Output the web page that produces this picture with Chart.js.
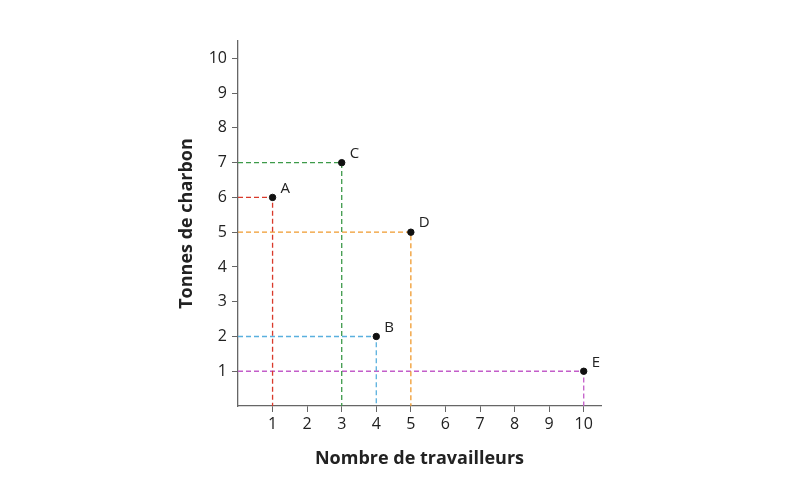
<!DOCTYPE html>
<html>
<head>
<meta charset="utf-8">
<script src="https://cdn.jsdelivr.net/npm/chart.js@4.4.1/dist/chart.umd.min.js"></script>
<style>
html,body{margin:0;padding:0;background:#fff;}
#wrap{width:810px;height:497px;position:relative;}
</style>
</head>
<body>
<div id="wrap"><canvas id="c" width="810" height="497"></canvas></div>
<script>
const pointLabels = ["A", "B", "C", "D", "E"];
const workers = [1, 4, 3, 5, 10];
const coal = [6, 2, 7, 5, 1];
const colors = ["#d93a2b", "#5ab0de", "#3d9a4a", "#f09a2e", "#c35ec9"];
const xTicks = [1, 2, 3, 4, 5, 6, 7, 8, 9, 10];
const yTicks = [1, 2, 3, 4, 5, 6, 7, 8, 9, 10];
const xTitle = "Nombre de travailleurs";
const yTitle = "Tonnes de charbon";

const FONT = "'Open Sans', 'Noto Sans', sans-serif";

const datasets = [];
pointLabels.forEach((lab, i) => {
  datasets.push({
    type: "line",
    order: 2,
    data: [{x: 0, y: coal[i]}, {x: workers[i], y: coal[i]}, {x: workers[i], y: 0}],
    borderColor: colors[i],
    borderWidth: 1.3,
    borderDash: [5, 3],
    pointRadius: 0,
    fill: false,
    tension: 0
  });
});
datasets.push({
  type: "scatter",
  order: 0,
  data: workers.map((w, i) => ({x: w, y: coal[i]})),
  backgroundColor: "#111",
  borderColor: "#111",
  pointRadius: 3.2,
  pointHoverRadius: 3.2
});

const labelPlugin = {
  id: "pointLabels",
  afterDatasetsDraw(chart) {
    const ctx = chart.ctx;
    const xs = chart.scales.x, ys = chart.scales.y;
    ctx.save();
    ctx.fillStyle = "#222";
    ctx.font = "15px " + FONT;
    ctx.textAlign = "left";
    ctx.textBaseline = "middle";
    pointLabels.forEach((lab, i) => {
      const px = xs.getPixelForValue(workers[i]);
      const py = ys.getPixelForValue(coal[i]);
      ctx.fillText(lab, px + 8, py - 9);
    });
    ctx.restore();
  }
};

new Chart(document.getElementById("c"), {
  data: {datasets},
  options: {
    responsive: false,
    animation: false,
    events: [],
    layout: {padding: {left: 176, right: 209, top: 41, bottom: 14}},
    plugins: {legend: {display: false}, tooltip: {enabled: false}},
    scales: {
      x: {
        type: "linear", min: 0, max: 10.5,
        afterBuildTicks: s => { s.ticks = xTicks.map(v => ({value: v})); },
        afterFit: s => { s.height = 77; },
        grid: {drawOnChartArea: false, drawTicks: true, tickLength: 6, color: "#666", tickWidth: 1},
        border: {display: true, color: "#666", width: 1.3},
        ticks: {color: "#222", font: {family: FONT, size: 16}, padding: 3, maxRotation: 0},
        title: {display: true, text: xTitle, color: "#222", font: {family: FONT, size: 18, weight: "bold"}, padding: {top: 0, bottom: 13}}
      },
      y: {
        type: "linear", min: 0, max: 10.5,
        afterBuildTicks: s => { s.ticks = yTicks.map(v => ({value: v})); },
        afterFit: s => { s.width = 62; },
        grid: {drawOnChartArea: false, drawTicks: true, tickLength: 6, color: "#666", tickWidth: 1},
        border: {display: true, color: "#666", width: 1.3},
        ticks: {color: "#222", font: {family: FONT, size: 16}, padding: 5},
        title: {display: true, text: yTitle, color: "#222", font: {family: FONT, size: 18, weight: "bold"}, padding: {top: 0, bottom: 0}}
      }
    }
  },
  plugins: [labelPlugin]
});
</script>
</body>
</html>
